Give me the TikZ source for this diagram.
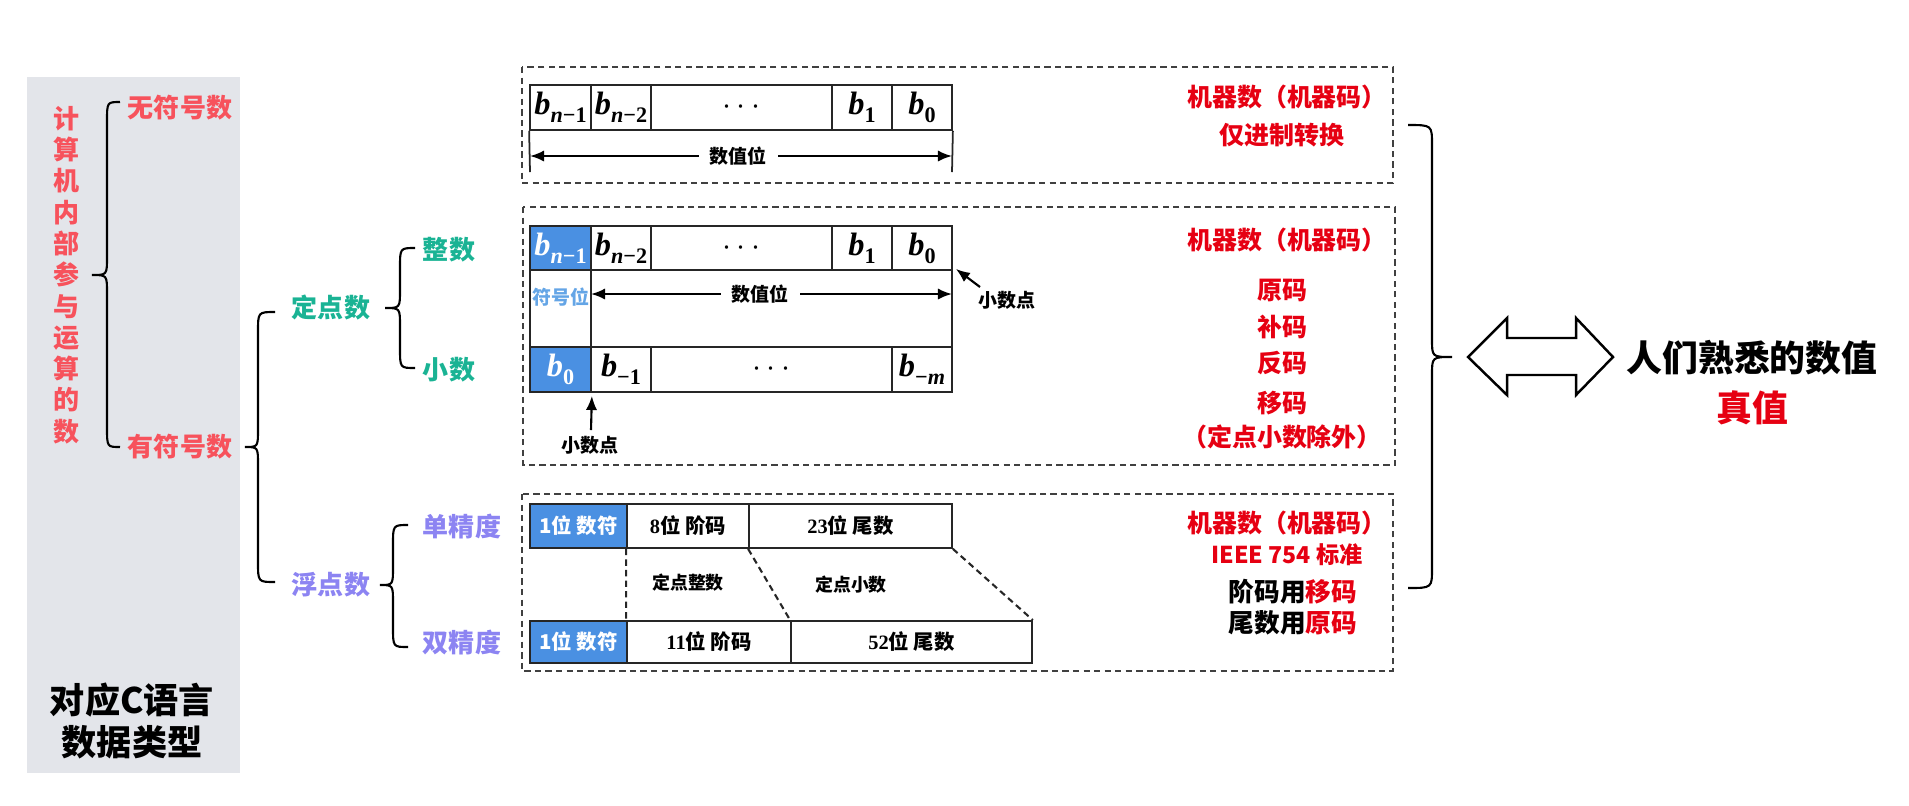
\documentclass[tikz,border=0pt]{standalone}
\usepackage[no-math]{fontspec}
\setmainfont{Noto Sans CJK SC}
\newfontfamily\serifnum{Liberation Serif}
\usetikzlibrary{arrows.meta}
\definecolor{panel}{RGB}{227,229,234}
\definecolor{salmon}{RGB}{247,82,92}
\definecolor{myteal}{RGB}{26,179,148}
\definecolor{lav}{RGB}{140,132,242}
\definecolor{codered}{RGB}{230,0,18}
\definecolor{signblue}{RGB}{74,144,226}
\definecolor{lightblue}{RGB}{100,165,230}
\newcommand\curly[6]{% tip, spine, end, top, mid, bottom
  \draw[bracepath] (#3,#4) .. controls (#2,#4) .. ({#2},{#4+20}) -- ({#2},{#5-18})
    .. controls (#2,#5) .. (#1,#5) .. controls (#2,#5) .. ({#2},{#5+18})
    -- ({#2},{#6-20}) .. controls (#2,#6) .. (#3,#6);}
% name, x1, y1, x2, y2, style, text
\newcommand\bcell[7]{%
  \pgfmathsetmacro\cw{(#4-#2)*0.01}\pgfmathsetmacro\ch{(#5-#3)*0.01}%
  \node[#6, minimum width=\cw cm, minimum height=\ch cm] (#1) at ({(#2+#4)/2},{(#3+#5)/2}) {\makebox[0pt]{#7}};}
\newcommand\bb[1]{{\serifnum\bfseries\itshape b}\raisebox{-2.2pt}{\fontsize{6.3}{7}\selectfont\serifnum\bfseries #1}}
\newcommand\iv[1]{\textit{#1}}
\begin{document}
\begin{tikzpicture}[x=0.01cm,y=-0.01cm,
  lbl/.style={inner sep=0pt, font=\bfseries\fontsize{7.4}{9}\selectfont},
  big/.style={inner sep=0pt, font=\bfseries\fontsize{10.2}{12.2}\selectfont},
  small/.style={inner sep=0pt, font=\bfseries\fontsize{5.4}{6.5}\selectfont},
  rtxt/.style={inner sep=0pt, font=\bfseries\fontsize{7.1}{8.5}\selectfont, text=codered},
  btxt/.style={inner sep=0pt, font=\bfseries\fontsize{7.3}{8.5}\selectfont},
  bitcell/.style={draw=black!85, line width=0.5pt, inner sep=0pt, font=\fontsize{9.2}{10}\selectfont},
  signcell/.style={bitcell, fill=signblue, text=white},
  fcell/.style={draw=black!85, line width=0.5pt, inner sep=0pt, font=\bfseries\fontsize{5.8}{7}\selectfont},
  fsign/.style={fcell, fill=signblue, text=white},
  dbox/.style={draw=black!75, line width=0.6pt, dash pattern=on 1.8pt off 1.2pt},
  dline/.style={draw=black!85, line width=0.6pt, dash pattern=on 1.8pt off 1.2pt},
  bracepath/.style={line width=0.6pt, black},
  tick/.style={line width=0.5pt, black!85},
  arr/.style={line width=0.6pt, -{Latex[length=4pt,width=3.2pt]}},
  darr/.style={line width=0.6pt, {Latex[length=4pt,width=3.2pt]}-{Latex[length=4pt,width=3.2pt]}}
]
\useasboundingbox (0,0) rectangle (1909,805);

% left panel
\fill[panel] (27,77) rectangle (240,773);
\node[lbl, text=salmon, align=center, font=\bfseries\fontsize{7.4}{8.9}\selectfont] (vt) at (67,275)
  {计\\算\\机\\内\\部\\参\\与\\运\\算\\的\\数};
\node[lbl, text=salmon] (unsigned) at (180,108) {无符号数};
\node[lbl, text=salmon] (signed) at (180,447) {有符号数};
\node[big, align=center, font=\bfseries\fontsize{10}{12.2}\selectfont] (ctype) at (132,721) {对应C语言\\数据类型};

% classification
\node[lbl, text=myteal] (fixed) at (331,308) {定点数};
\node[lbl, text=lav] (float) at (331,585) {浮点数};
\node[lbl, text=myteal] (int) at (449,250) {整数};
\node[lbl, text=myteal] (frac) at (449,370) {小数};
\node[lbl, text=lav] (single) at (462,527) {单精度};
\node[lbl, text=lav] (double) at (462,643) {双精度};

\curly{92}{107}{120}{102}{275}{447}
\curly{245}{258}{275}{312}{447}{582}
\curly{385}{400}{415}{248}{308}{368}
\curly{380}{393}{408}{525}{585}{647}
\curly{1452}{1432}{1408}{125}{357}{588}

% ---------- box 1: unsigned
\draw[dbox] (522,67) rectangle (1393,183);
\bcell{u1}{530}{85}{591}{130}{bitcell}{\bb{\iv{n}−1}}
\bcell{u2}{591}{85}{651}{130}{bitcell}{\bb{\iv{n}−2}}
\bcell{u3}{651}{85}{832}{130}{bitcell}{$\cdots$}
\bcell{u4}{832}{85}{892}{130}{bitcell}{\bb{1}}
\bcell{u5}{892}{85}{952}{130}{bitcell}{\bb{0}}
\coordinate (uL) at (530,172);
\coordinate (uR) at (952,172);
\draw[tick] (u1.south west) -- (uL);
\draw[tick] (u5.south east) -- (uR);
\coordinate (uaL) at (530,156);
\coordinate (uaR) at (952,156);
\draw[darr] (uaL) -- (uaR);
\node[small, fill=white, inner xsep=0.11cm, inner ysep=1pt] (uval) at (738,156) {数值位};
\node[rtxt] (m1) at (1287,97) {机器数（机器码）};
\node[rtxt] (m1b) at (1282,135) {仅进制转换};

% ---------- box 2: fixed point
\draw[dbox] (523,207) rectangle (1395,465);
\bcell{f1}{530}{226}{591}{270}{signcell}{\bb{\iv{n}−1}}
\bcell{f2}{591}{226}{651}{270}{bitcell}{\bb{\iv{n}−2}}
\bcell{f3}{651}{226}{832}{270}{bitcell}{$\cdots$}
\bcell{f4}{832}{226}{892}{270}{bitcell}{\bb{1}}
\bcell{f5}{892}{226}{952}{270}{bitcell}{\bb{0}}
\bcell{fm1}{530}{270}{591}{347}{bitcell}{}
\bcell{fm2}{591}{270}{952}{347}{bitcell}{}
\bcell{g1}{530}{347}{591}{392}{signcell}{\bb{0}}
\bcell{g2}{591}{347}{651}{392}{bitcell}{\bb{−1}}
\bcell{g3}{651}{347}{892}{392}{bitcell}{$\cdots$}
\bcell{g4}{892}{347}{952}{392}{bitcell}{\bb{−\iv{m}}}
\node[small, text=lightblue] (signbit) at (561,297) {符号位};
\coordinate (faL) at (591,294);
\coordinate (faR) at (952,294);
\draw[darr] (faL) -- (faR);
\node[small, fill=white, inner xsep=0.11cm, inner ysep=1pt] (fval) at (760,294) {数值位};
\node[small] (pt1) at (1007,300) {小数点};
\coordinate (pt1s) at (980,287);
\draw[arr] (pt1s) -- ([shift={(3,-2)}]f5.south east);
\node[small] (pt2) at (590,445) {小数点};
\coordinate (pt2s) at (591,430);
\draw[arr] (pt2s) -- ([yshift=-0.03cm]g1.south east);
\node[rtxt] (m2) at (1287,240) {机器数（机器码）};
\node[rtxt] (c1) at (1282,290) {原码};
\node[rtxt] (c2) at (1282,327) {补码};
\node[rtxt] (c3) at (1282,363) {反码};
\node[rtxt] (c4) at (1282,403) {移码};
\node[rtxt] (c5) at (1282,437) {（定点小数除外）};

% ---------- box 3: floating point
\draw[dbox] (522,494) rectangle (1393,671);
\bcell{s1}{530}{504}{627}{548}{fsign}{1位 数符}
\bcell{s2}{627}{504}{749}{548}{fcell}{{\serifnum 8}位 阶码}
\bcell{s3}{749}{504}{952}{548}{fcell}{{\serifnum 23}位 尾数}
\bcell{d1}{530}{621}{627}{663}{fsign}{1位 数符}
\bcell{d2}{627}{621}{791}{663}{fcell}{{\serifnum 11}位 阶码}
\bcell{d3}{791}{621}{1032}{663}{fcell}{{\serifnum 52}位 尾数}
\draw[dline] (s2.south west) -- (d2.north west);
\draw[dline] (s3.south west) -- (d3.north west);
\draw[dline] (s3.south east) -- (d3.north east);
\node[small, font=\bfseries\fontsize{5.1}{6}\selectfont] (fi) at (688,583) {定点整数};
\node[small, font=\bfseries\fontsize{5.1}{6}\selectfont] (ff) at (851,585) {定点小数};
\node[rtxt] (m3) at (1287,523) {机器数（机器码）};
\node[rtxt, font=\bfseries\fontsize{6.6}{8}\selectfont] (ieee) at (1287,555) {IEEE 754 标准};
\node[btxt] (e1) at (1293,592) {阶码用\textcolor{codered}{移码}};
\node[btxt] (e2) at (1293,623) {尾数用\textcolor{codered}{原码}};

% ---------- right side
\draw[line width=0.7pt, fill=white] (1468,357) -- (1507,318) -- (1507,338) -- (1576,338)
  -- (1576,318) -- (1613,357) -- (1576,395) -- (1576,375) -- (1507,375) -- (1507,395) -- cycle;
\node[big] (human) at (1752,358) {人们熟悉的数值};
\node[big, text=codered] (truev) at (1752,408) {真值};
\end{tikzpicture}
\end{document}
